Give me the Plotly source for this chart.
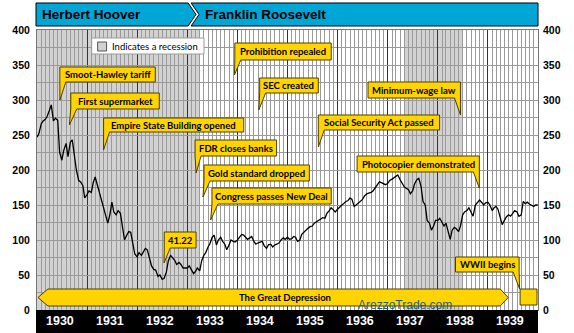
import plotly.graph_objects as go
import pandas as pd

# ---------------- data ----------------
years = list(range(1930, 1940))
# Dow Jones Industrial Average (1st and 15th of each month)
dow_1930 = [247, 252, 266, 270, 272, 276, 285, 293, 270, 274, 271, 225,
            214, 228, 238, 219, 240, 243, 220, 200, 185, 183, 178, 160]
dow_1931 = [165, 170, 168, 182, 190, 180, 171, 160, 150, 140, 124, 135,
            154, 140, 136, 142, 138, 120, 100, 106, 112, 111, 95, 80]
dow_1932 = [76, 82, 78, 84, 88, 86, 73, 63, 58, 57, 48, 50,
            44, 45, 54, 70, 78, 74, 71, 65, 68, 65, 60, 60]
dow_1933 = [60, 63, 58, 52, 55, 60, 56, 70, 78, 82, 90, 95,
            104, 107, 93, 100, 104, 98, 94, 86, 93, 100, 98, 97]
dow_1934 = [100, 104, 108, 107, 104, 101, 103, 105, 98, 94, 96, 97,
            98, 92, 88, 93, 94, 90, 93, 94, 96, 100, 103, 101]
dow_1935 = [104, 101, 102, 105, 104, 98, 100, 108, 111, 115, 117, 119,
            120, 124, 126, 128, 130, 132, 131, 138, 142, 146, 143, 140]
dow_1936 = [144, 147, 150, 152, 155, 156, 160, 158, 148, 150, 153, 156,
            158, 163, 166, 167, 168, 170, 174, 178, 183, 182, 180, 179]
dow_1937 = [181, 185, 187, 189, 191, 193, 186, 182, 176, 174, 172, 166,
            170, 180, 186, 188, 176, 155, 150, 128, 124, 114, 120, 128]
dow_1938 = [128, 131, 124, 120, 124, 112, 101, 114, 118, 116, 112, 120,
            136, 140, 142, 146, 140, 134, 150, 154, 157, 154, 150, 153]
dow_1939 = [154, 150, 142, 146, 148, 144, 132, 122, 128, 133, 136, 134,
            138, 142, 140, 134, 136, 155, 152, 154, 151, 150, 148, 150]
dow_final_date = "1939-12-30"
dow_final_value = 150

recession_starts = ["1929-08-01", "1937-05-01"]
recession_ends = ["1933-03-31", "1938-06-30"]

presidents = ["Herbert Hoover", "Franklin Roosevelt"]

event_labels = ["Smoot-Hawley tariff", "First supermarket", "Empire State Building opened",
                "Prohibition repealed", "SEC created", "FDR closes banks",
                "Gold standard dropped", "Congress passes New Deal",
                "Social Security Act passed", "Minimum-wage law",
                "Photocopier demonstrated", "41.22", "WWII begins"]
event_dates = ["1930-06-17", "1930-08-25", "1931-05-01", "1933-12-10", "1934-06-06",
               "1933-03-06", "1933-04-25", "1933-06-20", "1935-08-14", "1938-06-15",
               "1938-10-30", "1932-07-15", "1939-08-20"]

y_ticks = list(range(0, 401, 50))
era_label = "The Great Depression"
watermark = "ArezzoTrade.com"

# ---------------- build ----------------
series = [dow_1930, dow_1931, dow_1932, dow_1933, dow_1934,
          dow_1935, dow_1936, dow_1937, dow_1938, dow_1939]
dates, values = [], []
for yr, vals in zip(years, series):
    k = 0
    for m in range(1, 13):
        for d in (1, 15):
            dates.append(pd.Timestamp(yr, m, d))
            values.append(vals[k])
            k += 1
dates.append(pd.Timestamp(dow_final_date))
values.append(dow_final_value)

W, H = 574, 333
L, R, T, B = 34, 538, 30, 310
X0 = pd.Timestamp("1930-01-01")
X1 = pd.Timestamp("1940-01-01")


def px(X):
    return (X - L) / (R - L)


def py(Y):
    return (B - Y) / (B - T)


def date_px(d):
    frac = (pd.Timestamp(d) - X0) / (X1 - X0)
    return L + frac * (R - L)


def path(points):
    s = "M " + " L ".join(f"{px(a):.5f},{py(b):.5f}" for a, b in points) + " Z"
    return s


fig = go.Figure()
fig.add_trace(go.Scatter(x=dates, y=values, mode="lines",
                         line=dict(color="black", width=1.3),
                         showlegend=False, hoverinfo="x+y"))
fig.add_trace(go.Scatter(x=[dates[0]], y=[0], yaxis="y2", mode="markers",
                         marker=dict(opacity=0), showlegend=False, hoverinfo="skip"))

shapes = []
annotations = []

# recession shading
for s, e in zip(recession_starts, recession_ends):
    shapes.append(dict(type="rect", xref="x", yref="paper",
                       x0=max(pd.Timestamp(s), X0), x1=pd.Timestamp(e), y0=0, y1=1,
                       fillcolor="#d2d2d2", line=dict(width=0), layer="below"))

# header
cyan = "#00a6d6"
shapes.append(dict(type="path", xref="paper", yref="paper",
                   path=path([(33, 3), (186, 3), (194, 14.5), (186, 26), (33, 26)]),
                   fillcolor=cyan, line=dict(color="black", width=1)))
shapes.append(dict(type="path", xref="paper", yref="paper",
                   path=path([(189, 3), (538, 3), (538, 26), (189, 26), (197, 14.5)]),
                   fillcolor=cyan, line=dict(color="black", width=1)))
hdr_font = dict(family="Liberation Sans", size=13.5, color="black", weight="bold")
annotations.append(dict(text=presidents[0], xref="paper", yref="paper", x=px(37), y=py(15),
                        xanchor="left", yanchor="middle", showarrow=False, font=hdr_font))
annotations.append(dict(text=presidents[1], xref="paper", yref="paper", x=px(201), y=py(15),
                        xanchor="left", yanchor="middle", showarrow=False, font=hdr_font))

# bottom black bar with years
shapes.append(dict(type="rect", xref="paper", yref="paper", x0=px(33), x1=px(538),
                   y0=py(333), y1=py(310), fillcolor="black", line=dict(width=0)))
for i, yr in enumerate(years):
    xc = L + (i + 0.5) * (R - L) / 10 - 2.5
    annotations.append(dict(text=str(yr), xref="paper", yref="paper", x=px(xc), y=py(320.5),
                            xanchor="center", yanchor="middle", showarrow=False,
                            font=dict(family="Liberation Sans", size=12.5, color="white",
                                      weight="bold")))

# legend box
shapes.append(dict(type="rect", xref="paper", yref="paper", x0=px(89), x1=px(202),
                   y0=py(54), y1=py(38), fillcolor="white", line=dict(color="#9a9a9a", width=1)))
shapes.append(dict(type="rect", xref="paper", yref="paper", x0=px(95), x1=px(104),
                   y0=py(51), y1=py(42), fillcolor="#d2d2d2", line=dict(color="#555", width=1)))
annotations.append(dict(text="Indicates a recession", xref="paper", yref="paper",
                        x=px(107), y=py(46.5), xanchor="left", yanchor="middle",
                        showarrow=False, font=dict(family="Lato", size=9.5, color="black")))

# callouts
yellow = "#ffd400"
edge = dict(color="#4d4000", width=1)
co_font = dict(family="Lato", size=9.5, color="black", weight="bold")
boxes = [  # x0, y0, x1, y1, tip_y, side
    (57, 67, 153, 82, 100, "l"),
    (68, 93, 157, 109, 125, "l"),
    (101, 118, 242, 132, 150, "l"),
    (233, 43, 330, 60, 75, "l"),
    (258, 78, 317, 93, 110, "l"),
    (193, 140, 275, 156, 173, "l"),
    (202, 165, 308, 181, 197, "l"),
    (210, 188, 330, 204, 220, "l"),
    (317, 115, 439, 130, 147, "l"),
    (367, 82, 460, 98, 115, "r"),
    (356, 156, 479, 172, 188, "r"),
    (162, 232, 194, 248, 263, "l"),
    (455, 257, 519, 272, 289, "r"),
]
for label, d, (x0, y0, x1, y1, ty, side) in zip(event_labels, event_dates, boxes):
    tx = date_px(d)
    if side == "l":
        pts = [(x0, y0), (x1, y0), (x1, y1), (x0 + 6, y1), (tx, ty), (x0, y1)]
    else:
        pts = [(x0, y0), (x1, y0), (x1, y1), (tx, ty), (x1 - 6, y1), (x0, y1)]
    shapes.append(dict(type="path", xref="paper", yref="paper", path=path(pts),
                       fillcolor=yellow, line=edge))
    annotations.append(dict(text=label, xref="paper", yref="paper",
                            x=px((x0 + x1) / 2), y=py((y0 + y1) / 2),
                            xanchor="center", yanchor="middle", showarrow=False, font=co_font))

# WWII small block
shapes.append(dict(type="rect", xref="paper", yref="paper", x0=px(520), x1=px(537),
                   y0=py(305), y1=py(289), fillcolor=yellow, line=edge))

# Great Depression arrow
shapes.append(dict(type="path", xref="paper", yref="paper",
                   path=path([(35, 297.5), (45, 289), (500, 289), (508, 297.5),
                              (500, 306), (45, 306)]),
                   fillcolor=yellow, line=edge))
annotations.append(dict(text=era_label, xref="paper", yref="paper", x=px(283), y=py(297.5),
                        xanchor="center", yanchor="middle", showarrow=False, font=co_font))

# watermark
annotations.append(dict(text=watermark, xref="paper", yref="paper", x=px(404), y=py(305),
                        xanchor="center", yanchor="middle", showarrow=False,
                        font=dict(family="Liberation Sans", size=12, color="#1d5f7e")))

tickfont = dict(family="Liberation Sans", size=10.5, color="black", weight="bold")
fig.update_layout(
    width=W, height=H,
    margin=dict(l=L, r=W - R, t=T, b=H - B, pad=0),
    paper_bgcolor="white", plot_bgcolor="white",
    shapes=shapes, annotations=annotations,
    xaxis=dict(type="date", range=[X0, X1], showticklabels=False, ticks="",
               tick0="1930-01-01", dtick="M12", showgrid=True, gridcolor="#333333", gridwidth=1,
               minor=dict(dtick="M1", showgrid=True, gridcolor="#9a9a9a", gridwidth=1),
               showline=True, linecolor="#777", linewidth=1, mirror=True, zeroline=False,
               fixedrange=True),
    yaxis=dict(range=[0, 400], tick0=0, dtick=50, ticks="", tickfont=tickfont,
               showgrid=True, gridcolor="#9a9a9a", gridwidth=1,
               minor=dict(dtick=25, showgrid=True, gridcolor="#9a9a9a", gridwidth=1),
               showline=True, linecolor="#777", linewidth=1, mirror=True, zeroline=False,
               ticklabelstandoff=4, fixedrange=True),
    yaxis2=dict(range=[0, 400], tick0=0, dtick=50, ticks="", tickfont=tickfont,
                overlaying="y", side="right", showgrid=False, zeroline=False,
                ticklabelstandoff=4, fixedrange=True),
)

fig.write_html("out.html")
